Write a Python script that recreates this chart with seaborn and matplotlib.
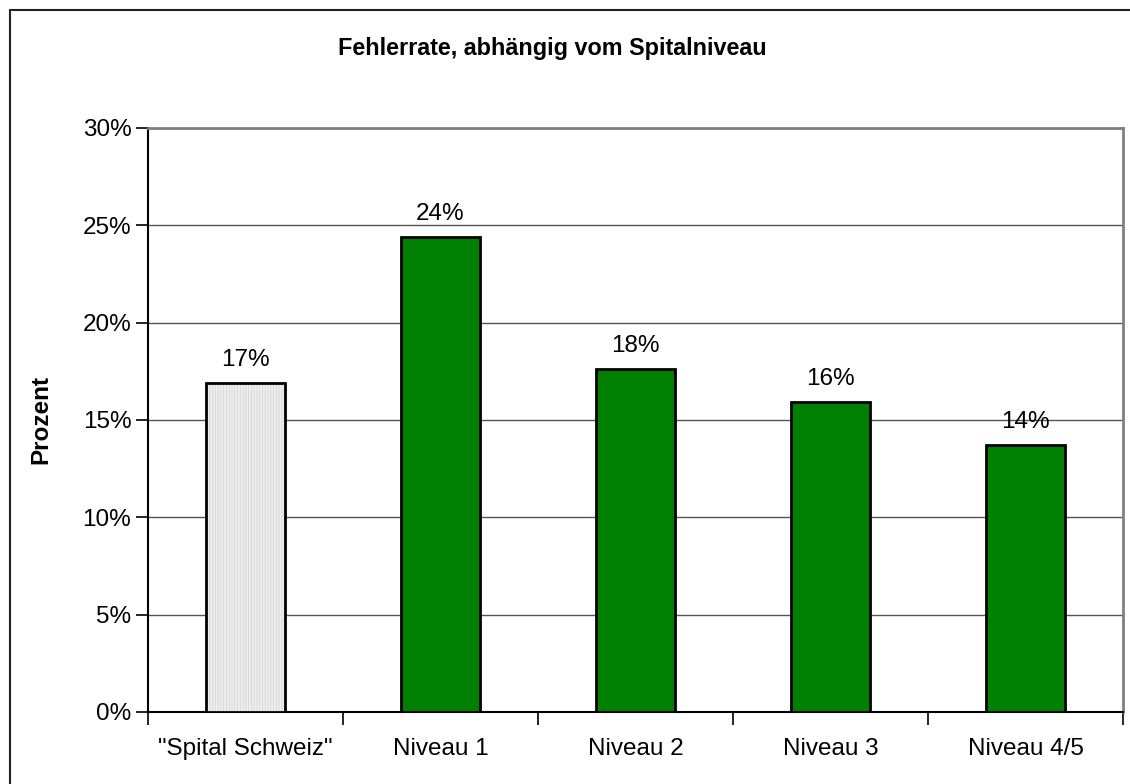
import matplotlib
matplotlib.use('Agg')
import matplotlib.pyplot as plt
from matplotlib.ticker import FuncFormatter, FixedLocator
from matplotlib.patches import Rectangle
import seaborn as sns

# ============================================================
# Data
# ============================================================
categories = ['"Spital Schweiz"', 'Niveau 1', 'Niveau 2', 'Niveau 3', 'Niveau 4/5']
fehlerrate = [16.9, 24.4, 17.6, 15.9, 13.7]
bar_labels = ['17%', '24%', '18%', '16%', '14%']
bar_colors = ['#eeeeee', '#008000', '#008000', '#008000', '#008000']

title = 'Fehlerrate, abhängig vom Spitalniveau'
y_label = 'Prozent'

# ============================================================
# Style
# ============================================================
sns.set_style('white')
plt.rcParams['font.family'] = ['Liberation Sans', 'DejaVu Sans']
plt.rcParams['hatch.linewidth'] = 0.6
for key in ['text.color', 'axes.labelcolor', 'xtick.color', 'ytick.color']:
    plt.rcParams[key] = 'black'

fig = plt.figure(figsize=(11.3, 7.84), dpi=100)
ax = fig.add_axes([148 / 1130, 1 - 712 / 784, 975 / 1130, 584 / 784])

sns.barplot(x=categories, y=fehlerrate, hue=categories, palette=bar_colors,
            legend=False, width=0.405, edgecolor='black', linewidth=2,
            saturation=1, ax=ax, zorder=3)

bars = sorted([p for p in ax.patches if p.get_height() > 0],
              key=lambda p: p.get_x())

# value labels above bars
for bar, lab in zip(bars, bar_labels):
    ax.annotate(lab, (bar.get_x() + bar.get_width() / 2, bar.get_height()),
                xytext=(0, 9), textcoords='offset points',
                ha='center', va='bottom', fontsize=17.5)

# light vertical stripes on the reference bar
ref = bars[0]
ref.set_hatch('||||||')
ref.set_edgecolor('#d4d4d4')
ref.set_linewidth(0)
ax.add_patch(Rectangle(ref.get_xy(), ref.get_width(), ref.get_height(),
                       fill=False, edgecolor='black', linewidth=2, zorder=4))

# axes
ax.set_ylim(0, 30)
ax.set_xlim(-0.5, len(categories) - 0.5)
ax.set_yticks(range(0, 31, 5))
ax.yaxis.set_major_formatter(FuncFormatter(lambda v, _: f'{v:.0f}%'))
ax.yaxis.grid(True, color='#555555', linewidth=1)
ax.set_axisbelow(True)

ax.xaxis.set_minor_locator(FixedLocator([k - 0.5 for k in range(len(categories) + 1)]))
ax.tick_params(axis='x', which='major', length=0, pad=19, labelsize=17.5)
ax.tick_params(axis='x', which='minor', length=9, width=1.2, color='black',
               direction='out', bottom=True)
ax.tick_params(axis='y', length=9, width=1.2, color='black', direction='out',
               labelsize=17.5, pad=3, left=True)

for side in ['left', 'bottom']:
    ax.spines[side].set_color('black')
    ax.spines[side].set_linewidth(1.5)
for side in ['top', 'right']:
    ax.spines[side].set_color('#808080')
    ax.spines[side].set_linewidth(2)

ax.set_xlabel('')
ax.set_ylabel(y_label, fontsize=17.5, fontweight='bold')
ax.yaxis.set_label_coords((52 - 148) / 975, 0.5)

fig.text(552 / 1130, 1 - 48 / 784, title, ha='center', va='center',
         fontsize=16.8, fontweight='bold')

# outer chart border (runs off the right and bottom edge)
fig.patches.append(Rectangle((10 / 1130, -0.1), 1.2, 1 - 10 / 784 + 0.1,
                             transform=fig.transFigure, fill=False,
                             edgecolor='#222222', linewidth=1.5))

fig.savefig('out.png', dpi=100)
